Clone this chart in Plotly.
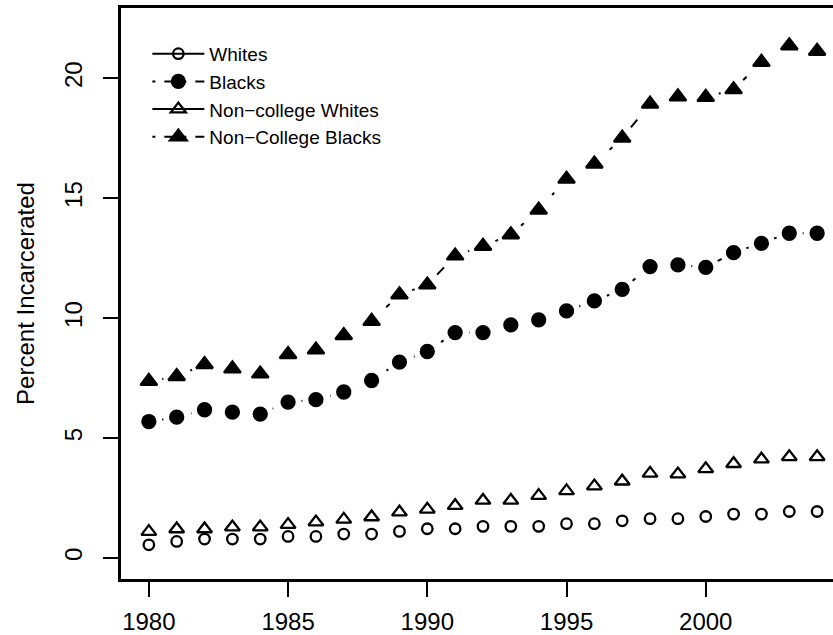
import plotly.graph_objects as go

years = list(range(1980, 2005))
whites = [0.55, 0.69, 0.79, 0.79, 0.79, 0.90, 0.90, 1.00, 1.00, 1.11, 1.22, 1.22, 1.32,
          1.32, 1.32, 1.43, 1.43, 1.55, 1.64, 1.64, 1.73, 1.83, 1.83, 1.94, 1.94]
blacks = [5.69, 5.87, 6.18, 6.08, 6.00, 6.50, 6.60, 6.92, 7.40, 8.17, 8.61, 9.40, 9.40,
          9.72, 9.93, 10.30, 10.72, 11.20, 12.15, 12.22, 12.12, 12.73, 13.12, 13.54, 13.54]
nc_whites = [1.10, 1.21, 1.21, 1.29, 1.29, 1.39, 1.50, 1.61, 1.71, 1.91, 2.03, 2.18, 2.40,
             2.40, 2.60, 2.80, 3.00, 3.20, 3.53, 3.50, 3.72, 3.93, 4.12, 4.22, 4.22]
nc_blacks = [7.37, 7.57, 8.07, 7.89, 7.68, 8.49, 8.68, 9.28, 9.87, 10.98, 11.39, 12.60, 13.00,
             13.48, 14.51, 15.80, 16.43, 17.51, 18.93, 19.23, 19.21, 19.53, 20.67, 21.36, 21.13]

names = ["Whites", "Blacks", "Non\u2212college Whites", "Non\u2212College Blacks"]
x_ticks = [1980, 1985, 1990, 1995, 2000]
y_ticks = [0, 5, 10, 15, 20]

FONT = "Liberation Sans, Arial, Helvetica, sans-serif"
DOTDASH = "3px,9px,10px,9px"

series = [
    (names[0], whites, "circle-open", 10.5, "solid", 30),
    (names[1], blacks, "circle", 13, DOTDASH, 27),
    (names[2], nc_whites, "triangle-up-open", 13, "solid", 30),
    (names[3], nc_blacks, "triangle-up", 14.5, DOTDASH, 27),
]

fig = go.Figure()

# lines + markers (these carry the legend)
for name, vals, sym, size, dash, _ in series:
    fig.add_trace(go.Scatter(
        x=years, y=vals, name=name, mode="lines+markers",
        line=dict(color="black", width=2, dash=dash),
        marker=dict(symbol=sym, size=size, color="black",
                    line=dict(color="black", width=2.3)),
    ))

# white masks give the gaps around points (R type="b")
for name, vals, sym, size, dash, gap in series:
    fig.add_trace(go.Scatter(
        x=years, y=vals, mode="markers", showlegend=False, hoverinfo="skip",
        marker=dict(symbol="circle", size=gap, color="white", line=dict(width=0)),
    ))

# points redrawn on top
for name, vals, sym, size, dash, _ in series:
    fig.add_trace(go.Scatter(
        x=years, y=vals, mode="markers", showlegend=False, name=name,
        marker=dict(symbol=sym, size=size, color="black",
                    line=dict(color="black", width=2.3)),
    ))

fig.update_layout(
    width=833, height=635,
    margin=dict(l=121, r=0, t=8, b=56),
    paper_bgcolor="white", plot_bgcolor="white",
    font=dict(family=FONT, color="black", size=24),
    showlegend=True,
    legend=dict(
        x=0.037, y=0.953, xanchor="left", yanchor="top",
        bgcolor="rgba(0,0,0,0)", borderwidth=0,
        font=dict(size=19, family=FONT, color="black"),
        itemwidth=52, tracegroupgap=0,
    ),
    xaxis=dict(
        range=[1979.0, 2004.57], tickmode="array", tickvals=x_ticks,
        ticktext=[str(t) for t in x_ticks],
        showgrid=False, zeroline=False, automargin=False,
        showline=True, linecolor="black", linewidth=2.5, mirror=True,
        ticks="outside", ticklen=15, tickwidth=2, tickcolor="black",
        ticklabelstandoff=4,
        tickfont=dict(size=24, family=FONT, color="black"),
    ),
    yaxis=dict(
        range=[-0.875, 22.93], tickmode="array", tickvals=y_ticks,
        ticktext=[str(t) for t in y_ticks],
        showgrid=False, zeroline=False, automargin=False,
        showline=True, linecolor="black", linewidth=2.5, mirror=False,
        ticks="outside", ticklen=15, tickwidth=2, tickcolor="black",
        tickangle=-90, ticklabelstandoff=12,
        tickfont=dict(size=24, family=FONT, color="black"),
        title=dict(text="Percent Incarcerated", standoff=19,
                   font=dict(size=24, family=FONT, color="black")),
    ),
)

fig.write_html(
    "out.html",
    config={"displayModeBar": False},
    post_script="document.body.style.margin='0';document.body.style.overflow='hidden';",
)
